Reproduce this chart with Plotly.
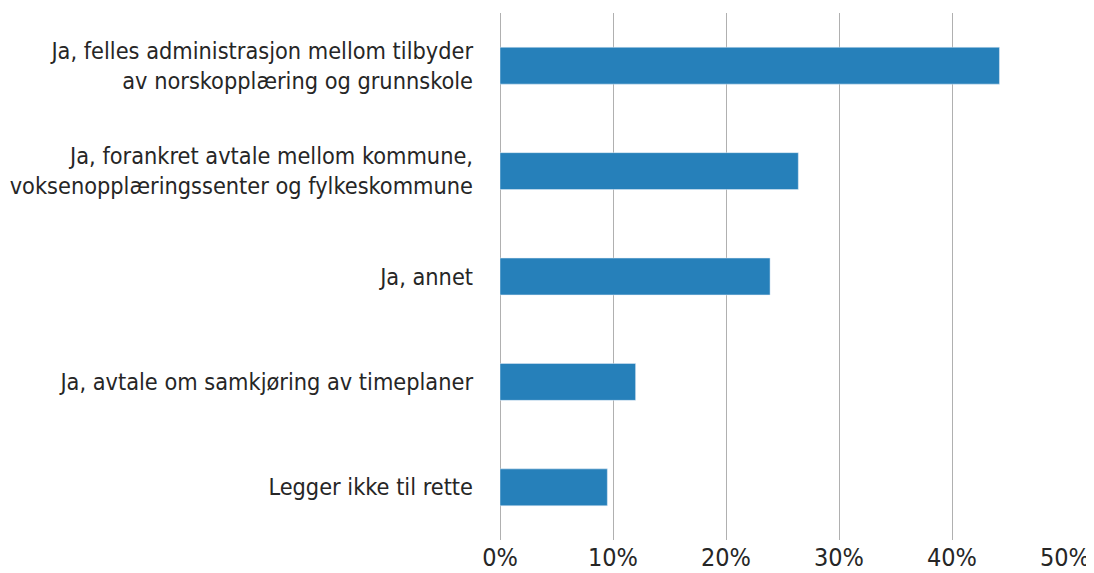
import plotly.graph_objects as go

kategorier = [
    "Ja, felles administrasjon mellom tilbyder<br>av norskopplæring og grunnskole",
    "Ja, forankret avtale mellom kommune,<br>voksenopplæringssenter og fylkeskommune",
    "Ja, annet",
    "Ja, avtale om samkjøring av timeplaner",
    "Legger ikke til rette",
]
andel = [0.442, 0.264, 0.239, 0.120, 0.095]

x_ticks = [0, 0.1, 0.2, 0.3, 0.4, 0.5]
x_labels = ["0%", "10%", "20%", "30%", "40%", "50%"]

fig = go.Figure()
fig.add_trace(go.Bar(
    x=andel,
    y=kategorier,
    orientation="h",
    marker_color="#2680ba",
    hovertemplate="%{y}: %{x:.0%}<extra></extra>",
))

# siden har 8px body-marg, så figuren er litt mindre enn vinduet
fig.update_layout(
    width=1086,
    height=565,
    margin=dict(l=492, r=29, t=5, b=33),
    paper_bgcolor="white",
    plot_bgcolor="white",
    bargap=0.65,
    showlegend=False,
    font=dict(family="DejaVu Sans Condensed, DejaVu Sans", size=23.3, color="#262626"),
)
fig.update_xaxes(
    range=[0, 0.5],
    tickvals=x_ticks,
    ticktext=x_labels,
    showgrid=True,
    gridcolor="#b0b0b0",
    gridwidth=1,
    zeroline=True,
    zerolinecolor="#b0b0b0",
    zerolinewidth=1,
    showline=False,
    automargin=False,
    ticklabelstandoff=0,
    tickfont=dict(size=25),
)
fig.update_yaxes(
    categoryorder="array",
    categoryarray=kategorier[::-1],
    showgrid=False,
    showline=False,
    automargin=False,
    ticklabelstandoff=26,
)

fig.write_html("out.html")
